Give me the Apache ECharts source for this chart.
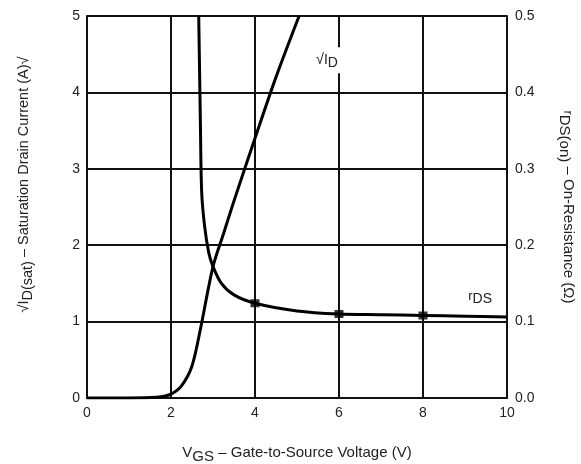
<!DOCTYPE html>
<html><head><meta charset="utf-8">
<script src="https://cdn.jsdelivr.net/npm/echarts@6/dist/echarts.min.js"></script>
<style>html,body{margin:0;padding:0;background:#fff}#c{width:581px;height:464px}</style>
</head><body><div id="c"></div>
<script>
// sqrt(ID(sat)) vs VGS (left axis)
const sqrtIdX = [0, 1.0, 1.5, 1.8, 2.0, 2.25, 2.5, 2.7, 3.0, 3.25, 3.5, 4.0, 4.5, 5.05];
const sqrtIdY = [0, 0, 0.005, 0.02, 0.05, 0.16, 0.42, 0.9, 1.72, 2.15, 2.58, 3.4, 4.2, 5.0];
// rDS(on) vs VGS (right axis)
const rdsX = [2.66, 2.70, 2.73, 2.8, 2.9, 3.0, 3.2, 3.5, 4.0, 5.0, 6.0, 7.0, 8.0, 9.0, 10.0];
const rdsY = [0.5, 0.36, 0.27, 0.225, 0.19, 0.172, 0.150, 0.135, 0.124, 0.114, 0.110, 0.109, 0.108, 0.107, 0.106];
const markerX = [4, 6, 8];
const xTicks = [0, 2, 4, 6, 8, 10];
const leftTicks = [0, 1, 2, 3, 4, 5];
const rightTicks = ['0.0', '0.1', '0.2', '0.3', '0.4', '0.5'];

const sqrtData = sqrtIdX.map((x, i) => [x, sqrtIdY[i]]);
const rdsData = rdsX.map((x, i) => [x, rdsY[i]]);
const markData = rdsData.filter(p => markerX.includes(p[0]));

const FONT = 'Liberation Sans';
const TXT = '#222';
const chart = echarts.init(document.getElementById('c'));
chart.setOption({
  animation: false,
  textStyle: { fontFamily: FONT },
  grid: { left: 87, right: 74, top: 16, bottom: 66, containLabel: false, outerBoundsMode: 'none' },
  xAxis: {
    type: 'value', min: 0, max: 10, interval: 2,
    axisLine: { lineStyle: { color: '#111', width: 2 } },
    axisTick: { show: false },
    axisLabel: { color: TXT, fontSize: 14, margin: 8, fontFamily: FONT,
      formatter: v => String(xTicks[Math.round(v / 2)]) },
    splitLine: { show: true, lineStyle: { color: '#111', width: 2 } },
    name: '{n|V}{sub|GS}{n| – Gate-to-Source Voltage (V)}',
    nameLocation: 'middle', nameGap: 44,
    nameTextStyle: {
      rich: {
        n: { fontSize: 15, color: TXT, fontFamily: FONT },
        sub: { fontSize: 15, color: TXT, fontFamily: FONT, padding: [7, 0, 0, 0] }
      }
    }
  },
  yAxis: [
    {
      type: 'value', min: 0, max: 5, interval: 1,
      axisLine: { show: true, lineStyle: { color: '#111', width: 2 } },
      axisTick: { show: false },
      axisLabel: { color: TXT, fontSize: 14, margin: 7, fontFamily: FONT,
        formatter: v => String(leftTicks[Math.round(v)]) },
      splitLine: { show: true, lineStyle: { color: '#111', width: 2 } },
      name: '{n|√}{o|I}{sub|D(sat)}{n| – Saturation Drain Current (A)√}',
      nameLocation: 'middle', nameGap: 52,
      nameTextStyle: {
        padding: [0, 0, 0, 45],
        rich: {
          n: { fontSize: 14.5, color: TXT, fontFamily: FONT },
          o: { fontSize: 14.5, color: TXT, fontFamily: FONT },
          sub: { fontSize: 14.5, color: TXT, fontFamily: FONT, padding: [7, 0, 0, 0] }
        }
      }
    },
    {
      type: 'value', min: 0, max: 0.5, interval: 0.1, position: 'right',
      axisLine: { show: true, lineStyle: { color: '#111', width: 2 } },
      axisTick: { show: false },
      axisLabel: { color: TXT, fontSize: 14, margin: 8, fontFamily: FONT,
        formatter: v => rightTicks[Math.round(v * 10)] },
      splitLine: { show: false },
      name: '{r|r}{sub|DS(on)}{n| – On-Resistance (Ω)}',
      nameLocation: 'middle', nameGap: 50, nameRotate: -90,
      nameTextStyle: {
        rich: {
          r: { fontSize: 13, color: TXT, fontFamily: FONT },
          n: { fontSize: 15, color: TXT, fontFamily: FONT },
          sub: { fontSize: 15, color: TXT, fontFamily: FONT, padding: [7, 0, 0, 0] }
        }
      }
    }
  ],
  series: [
    {
      type: 'line', yAxisIndex: 0, data: sqrtData, symbol: 'none',
      smooth: 0.3,
      lineStyle: { color: '#000', width: 3 },
      markPoint: {
        symbol: 'rect', symbolSize: [40, 26],
        itemStyle: { color: '#fff' },
        data: [{ coord: [5.71, 4.42],
          label: { show: true, position: 'inside', formatter: '{n|√}{o|I}{sub|D}',
            rich: {
              n: { fontSize: 15, color: TXT, fontFamily: FONT },
              o: { fontSize: 14, color: TXT, fontFamily: FONT },
              sub: { fontSize: 14, color: TXT, fontFamily: FONT, padding: [5, 0, 0, 0] }
            } } }]
      }
    },
    {
      type: 'line', yAxisIndex: 1, data: rdsData, symbol: 'none',
      smooth: 0.3,
      lineStyle: { color: '#000', width: 3 },
      markPoint: {
        symbol: 'rect', symbolSize: 1, itemStyle: { color: 'rgba(0,0,0,0)' },
        data: [{ coord: [9.36, 0.1335],
          label: { show: true, position: 'inside', formatter: '{r|r}{sub|DS}',
            rich: {
              r: { fontSize: 13, color: TXT, fontFamily: FONT },
              sub: { fontSize: 14, color: TXT, fontFamily: FONT, padding: [6, 0, 0, 0] }
            } } }]
      }
    },
    {
      type: 'scatter', yAxisIndex: 1, data: markData, symbol: 'rect', symbolSize: [9, 8],
      itemStyle: { color: '#000' }
    }
  ]
});
</script></body></html>
